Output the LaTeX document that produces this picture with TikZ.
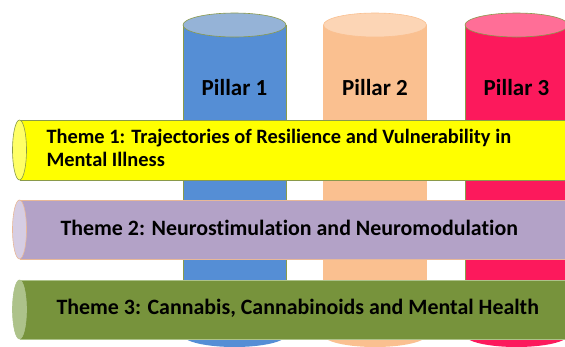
\documentclass[tikz,border=0pt]{standalone}
\usepackage{fontspec}
\setmainfont{Carlito}[Ligatures=NoCommon]
\definecolor{p1body}{HTML}{558ED5}
\definecolor{p1top}{HTML}{95B3D7}
\definecolor{p2body}{HTML}{FAC090}
\definecolor{p2top}{HTML}{FCD5B5}
\definecolor{p3body}{HTML}{FC195C}
\definecolor{p3top}{HTML}{FF6E97}
\definecolor{t1body}{HTML}{FFFF00}
\definecolor{t1cap}{HTML}{FFFF66}
\definecolor{t2body}{HTML}{B3A2C7}
\definecolor{t2cap}{HTML}{D6CDE3}
\definecolor{t3body}{HTML}{77933C}
\definecolor{t3cap}{HTML}{ADC28A}
\definecolor{olive}{HTML}{8A9A4A}
\definecolor{peach}{HTML}{E8B898}
\tikzset{
  pillartext/.style={font=\fontsize{23}{26}\selectfont\bfseries, text=black},
  themetext/.style={text=black, anchor=west, align=left},
}
\begin{document}
\begin{tikzpicture}[x=1pt,y=-1pt]
\useasboundingbox (0,0) rectangle (565,346);
\clip (0,0) rectangle (565,346);
\fill[white] (0,0) rectangle (565,346);
% pillars
\foreach \cx/\bc/\tc/\oc in {234.5/p1body/p1top/olive, 375/p2body/p2top/p2body, 516.5/p3body/p3top/olive}{
  \fill[\bc] (\cx-51.5,25) rectangle (\cx+51.5,335);
  \fill[\bc] (\cx,335) ellipse [x radius=51.5, y radius=12];
  \draw[\oc, line width=0.6pt] (\cx-51.5,25) -- (\cx-51.5,335);
  \draw[\oc, line width=0.6pt] (\cx+51.5,25) -- (\cx+51.5,335);
  \filldraw[fill=\tc, draw=\oc, line width=0.6pt] (\cx,25) ellipse [x radius=51.5, y radius=12];
}
\node[pillartext] (p1) at (234.5,88) {Pillar 1};
\node[pillartext] (p2) at (375,88) {Pillar 2};
\node[pillartext] (p3) at (516.5,88) {Pillar 3};
% themes
\foreach \cy/\ry/\bc/\cc/\oc in {150/30/t1body/t1cap/olive, 229.5/29.5/t2body/t2cap/peach, 309.5/29.5/t3body/t3cap/t3cap}{
  \filldraw[fill=\bc, draw=\oc, line width=0.6pt] (19.5,\cy-\ry) -- (580,\cy-\ry) -- (580,\cy+\ry) -- (19.5,\cy+\ry);
  \filldraw[fill=\cc, draw=\oc, line width=0.6pt] (19.5,\cy) ellipse [x radius=7, y radius=\ry];
}
\node[themetext, font=\fontsize{20.4}{23.5}\selectfont\bfseries] (t1) at (43,148) {Theme 1: Trajectories of Resilience and Vulnerability in\\Mental Illness};
\node[themetext, font=\fontsize{21.9}{24}\selectfont\bfseries] (t2) at (57,228) {Theme 2: Neurostimulation and Neuromodulation};
\node[themetext, font=\fontsize{21.9}{24}\selectfont\bfseries] (t3) at (53,308) {Theme 3: Cannabis, Cannabinoids and Mental Health};
\end{tikzpicture}
\end{document}
